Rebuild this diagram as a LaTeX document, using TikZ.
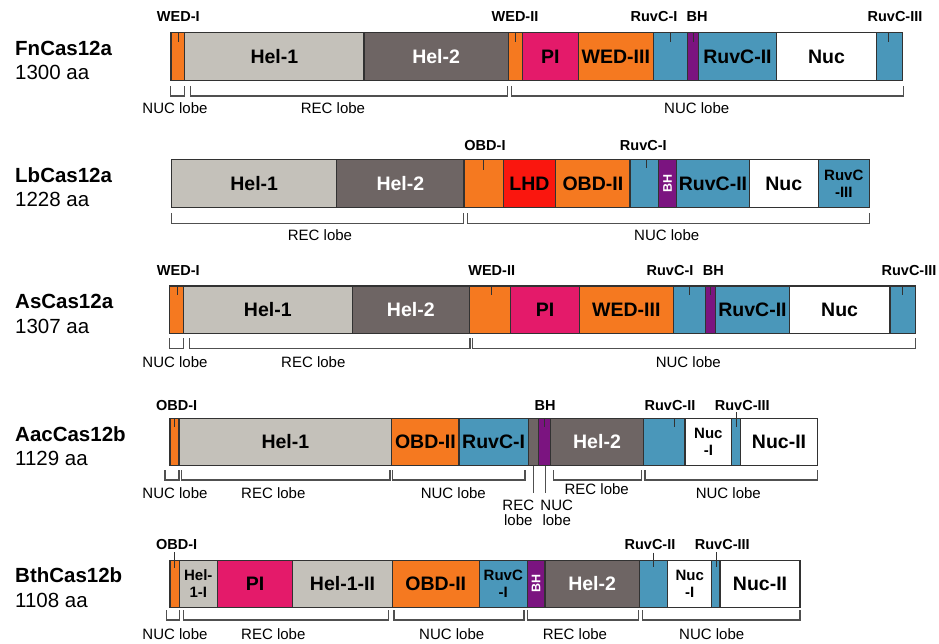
\documentclass[tikz,border=0pt]{standalone}
\usepackage{fontspec}
\setmainfont{Liberation Sans}
\definecolor{cOr}{RGB}{245,121,32}
\definecolor{cG1}{RGB}{196,193,186}
\definecolor{cG2}{RGB}{110,101,100}
\definecolor{cPk}{RGB}{228,26,106}
\definecolor{cBl}{RGB}{74,151,186}
\definecolor{cPu}{RGB}{123,20,128}
\definecolor{cRd}{RGB}{250,22,14}
\definecolor{lineC}{RGB}{50,50,50}
\definecolor{brkC}{RGB}{80,80,80}
\newcommand\rowy{0}
\newcommand\seg[4]{%
  \pgfmathsetmacro\segW{#3-#2}%
  \pgfmathsetmacro\segX{(#2+#3)/2}%
  \node[segbox,fill=#4,minimum width=\segW pt] (#1) at (\segX,\rowy) {};}
\newcommand\brk[5]{% name x1 x2 ytop ybot
  \draw[brk] (#2,#4) -- (#2,#5) -- (#3,#5) -- (#3,#4);}
\newcommand\tck[3]{\draw[tick] (#1,#2) -- (#1,#3);}
\begin{document}
\begin{tikzpicture}[x=1pt,y=-1pt,
  segbox/.style={draw=lineC, line width=1.1pt, inner sep=0pt, outer sep=0pt, minimum height=47.5pt},
  seglab/.style={font=\bfseries\fontsize{19.5}{21}\selectfont, inner sep=0pt, align=center},
  seglabs/.style={font=\bfseries\fontsize{15}{16.5}\selectfont, inner sep=0pt, align=center},
  bhlab/.style={font=\bfseries\fontsize{12.5}{13}\selectfont, inner sep=0pt, text=white, rotate=90},
  toplab/.style={font=\bfseries\fontsize{14.5}{15}\selectfont, inner sep=0pt, anchor=base},
  lobelab/.style={font=\fontsize{15}{15}\selectfont, inner sep=0pt, align=center},
  brk/.style={draw=brkC, line width=1.2pt},
  tick/.style={draw=lineC, line width=1pt},
  namelab/.style={font=\bfseries\fontsize{20.5}{22}\selectfont, anchor=base west, inner sep=0pt},
  aalab/.style={font=\fontsize{20.5}{22}\selectfont, anchor=base west, inner sep=0pt}]
\useasboundingbox (0,0) rectangle (939,644);

% ---------------- Row 1: FnCas12a ----------------
\node[namelab] (n1) at (15,55.7) {FnCas12a};
\node[aalab] (a1) at (15,80) {1300 aa};
\renewcommand\rowy{56.5}
\seg{fA}{171}{184.7}{cOr}
\seg{fB}{184.7}{364}{cG1}
\seg{fC}{364}{508.3}{cG2}
\seg{fD}{508.3}{522.3}{cOr}
\seg{fE}{522.3}{578.3}{cPk}
\seg{fF}{578.3}{653.3}{cOr}
\seg{fG}{653.3}{687.7}{cBl}
\seg{fH}{687.7}{698.7}{cPu}
\seg{fI}{698.7}{776.3}{cBl}
\seg{fJ}{776.3}{876.7}{white}
\seg{fK}{876.7}{902.7}{cBl}
\node[seglab] (fBt) at (fB) {Hel-1};
\node[seglab,text=white] (fCt) at (fC) {Hel-2};
\node[seglab] (fEt) at (fE) {PI};
\node[seglab] (fFt) at (fF) {WED-III};
\node[seglab] (fIt) at (fI) {RuvC-II};
\node[seglab] (fJt) at (fJ) {Nuc};
\node[toplab] (fl1) at (178.3,21.5) {WED-I};
\node[toplab] (fl2) at (515,21.5) {WED-II};
\node[toplab] (fl3) at (654,21.5) {RuvC-I};
\node[toplab] (fl4) at (697,21.5) {BH};
\node[toplab] (fl5) at (895,21.5) {RuvC-III};
\tck{178.3}{33}{42}
\tck{515}{33}{42}
\tck{670}{33}{42}
\tck{693.3}{33}{42}
\tck{888.3}{33}{42}
\brk{fb1}{170.7}{184.3}{86}{96}
\brk{fb2}{190.7}{507.7}{86}{96}
\brk{fb3}{511.7}{903.3}{86}{96}
\node[lobelab] (fo1) at (175,108) {NUC lobe};
\node[lobelab] (fo2) at (333,108) {REC lobe};
\node[lobelab] (fo3) at (696.7,108) {NUC lobe};

% ---------------- Row 2: LbCas12a ----------------
\node[namelab] (n2) at (15,182.7) {LbCas12a};
\node[aalab] (a2) at (15,207) {1228 aa};
\renewcommand\rowy{183.7}
\seg{lA}{171.7}{336.7}{cG1}
\seg{lB}{336.7}{464}{cG2}
\seg{lC}{464}{503.3}{cOr}
\seg{lD}{503.3}{555.7}{cRd}
\seg{lE}{555.7}{630}{cOr}
\seg{lF}{630}{658.3}{cBl}
\seg{lG}{658.3}{676.7}{cPu}
\seg{lH}{676.7}{749.3}{cBl}
\seg{lI}{749.3}{818.3}{white}
\seg{lJ}{818.3}{869.3}{cBl}
\node[seglab] (lAt) at (lA) {Hel-1};
\node[seglab,text=white] (lBt) at (lB) {Hel-2};
\node[seglab] (lDt) at (lD) {LHD};
\node[seglab] (lEt) at (lE) {OBD-II};
\node[bhlab] (lGt) at (lG) {BH};
\node[seglab] (lHt) at (lH) {RuvC-II};
\node[seglab] (lIt) at (lI) {Nuc};
\node[seglabs] (lJt) at (lJ) {RuvC\\-III};
\node[toplab] (ll1) at (485,151) {OBD-I};
\node[toplab] (ll2) at (643.3,151) {RuvC-I};
\tck{483.3}{160}{170}
\tck{646.7}{160}{168}
\brk{lb1}{171.7}{463.3}{213.3}{223.3}
\brk{lb2}{467.3}{869.3}{213.3}{223.3}
\node[lobelab] (lo1) at (320,235) {REC lobe};
\node[lobelab] (lo2) at (666.7,235) {NUC lobe};

% ---------------- Row 3: AsCas12a ----------------
\node[namelab] (n3) at (15,308.7) {AsCas12a};
\node[aalab] (a3) at (15,333) {1307 aa};
\renewcommand\rowy{309.7}
\seg{sA}{169.3}{183.3}{cOr}
\seg{sB}{183.3}{352.3}{cG1}
\seg{sC}{352.3}{469.3}{cG2}
\seg{sD}{469.3}{510.7}{cOr}
\seg{sE}{510.7}{579.3}{cPk}
\seg{sF}{579.3}{673.3}{cOr}
\seg{sG}{673.3}{705.7}{cBl}
\seg{sH}{705.7}{715.7}{cPu}
\seg{sI}{715.7}{789.3}{cBl}
\seg{sJ}{789.3}{890}{white}
\seg{sK}{890}{915.7}{cBl}
\node[seglab] (sBt) at (sB) {Hel-1};
\node[seglab,text=white] (sCt) at (sC) {Hel-2};
\node[seglab] (sEt) at (sE) {PI};
\node[seglab] (sFt) at (sF) {WED-III};
\node[seglab] (sIt) at (sI) {RuvC-II};
\node[seglab] (sJt) at (sJ) {Nuc};
\node[toplab] (sl1) at (178.3,275.7) {WED-I};
\node[toplab] (sl2) at (491.7,275.7) {WED-II};
\node[toplab] (sl3) at (670,275.7) {RuvC-I};
\node[toplab] (sl4) at (713.3,275.7) {BH};
\node[toplab] (sl5) at (909,275.7) {RuvC-III};
\tck{177.3}{286}{295}
\tck{491.7}{286}{295}
\tck{689}{286}{295}
\tck{710}{286}{295}
\tck{902.3}{286}{295}
\brk{sb1}{169.3}{183.3}{338.3}{348.3}
\brk{sb2}{189.3}{470}{338.3}{348.3}
\brk{sb3}{472.7}{915.7}{338.3}{348.3}
\node[lobelab] (so1) at (175,361.7) {NUC lobe};
\node[lobelab] (so2) at (313.3,361.7) {REC lobe};
\node[lobelab] (so3) at (688.3,361.7) {NUC lobe};

% ---------------- Row 4: AacCas12b ----------------
\node[namelab] (n4) at (15,441) {AacCas12b};
\node[aalab] (a4) at (15,465.3) {1129 aa};
\renewcommand\rowy{442}
\seg{cA}{170}{179}{cOr}
\seg{cB}{179}{391.7}{cG1}
\seg{cC}{391.7}{459}{cOr}
\seg{cD}{459}{528.3}{cBl}
\seg{cE}{528.3}{538.3}{cG2}
\seg{cF}{538.3}{550.7}{cPu}
\seg{cG}{550.7}{643.3}{cG2}
\seg{cH}{643.3}{685}{cBl}
\seg{cI}{685}{731.7}{white}
\seg{cJ}{731.7}{740.7}{cBl}
\seg{cK}{740.7}{817.3}{white}
\node[seglab] (cBt) at (cB) {Hel-1};
\node[seglab] (cCt) at (cC) {OBD-II};
\node[seglab] (cDt) at (cD) {RuvC-I};
\node[seglab,text=white] (cGt) at (cG) {Hel-2};
\node[seglabs] (cIt) at (cI) {Nuc\\-I};
\node[seglab] (cKt) at (cK) {Nuc-II};
\node[toplab] (cl1) at (176.7,410) {OBD-I};
\node[toplab] (cl2) at (545,410) {BH};
\node[toplab] (cl3) at (670,410) {RuvC-II};
\node[toplab] (cl4) at (742.3,410) {RuvC-III};
\tck{174.3}{418.3}{427}
\tck{544.3}{418.3}{427}
\tck{674}{418.3}{427}
\tck{736}{412}{427}
\brk{cb1}{165}{179}{470}{480}
\brk{cb2}{181.7}{390}{470}{480}
\brk{cb3}{392.7}{525}{470}{480}
\brk{cb4}{553.3}{641.7}{470}{480}
\brk{cb5}{645}{817.3}{470}{480}
\draw[brk,line width=1pt] (533.3,465.7) -- (533.3,493.3);
\draw[brk,line width=1pt] (545,465.7) -- (545,493.3);
\node[lobelab] (co1) at (175,493.3) {NUC lobe};
\node[lobelab] (co2) at (273.3,493.3) {REC lobe};
\node[lobelab] (co3) at (453.3,493.3) {NUC lobe};
\node[lobelab] (co4) at (596.7,489.3) {REC lobe};
\node[lobelab] (co5) at (728.3,493.3) {NUC lobe};
\node[lobelab] (co6) at (518.3,512.5) {REC\\lobe};
\node[lobelab] (co7) at (556.7,512.5) {NUC\\lobe};

% ---------------- Row 5: BthCas12b ----------------
\node[namelab] (n5) at (15,582.7) {BthCas12b};
\node[aalab] (a5) at (15,607) {1108 aa};
\renewcommand\rowy{583.8}
\seg{bA}{170}{179.3}{cOr}
\seg{bB}{179.3}{217.3}{cG1}
\seg{bC}{217.3}{292.7}{cPk}
\seg{bD}{292.7}{392.3}{cG1}
\seg{bE}{392.3}{479.3}{cOr}
\seg{bF}{479.3}{527.3}{cBl}
\seg{bG}{527.3}{545}{cPu}
\seg{bH}{545}{639.3}{cG2}
\seg{bI}{639.3}{667.7}{cBl}
\seg{bJ}{667.7}{711.7}{white}
\seg{bK}{711.7}{720}{cBl}
\seg{bL}{720}{800}{white}
\node[seglabs] (bBt) at (bB) {Hel-\\1-I};
\node[seglab] (bCt) at (bC) {PI};
\node[seglab] (bDt) at (bD) {Hel-1-II};
\node[seglab] (bEt) at (bE) {OBD-II};
\node[seglabs] (bFt) at (bF) {RuvC\\-I};
\node[bhlab] (bGt) at (bG) {BH};
\node[seglab,text=white] (bHt) at (bH) {Hel-2};
\node[seglabs] (bJt) at (bJ) {Nuc\\-I};
\node[seglab] (bLt) at (bL) {Nuc-II};
\node[toplab] (bl1) at (176.7,549.3) {OBD-I};
\node[toplab] (bl2) at (650,549.3) {RuvC-II};
\node[toplab] (bl3) at (722.3,549.3) {RuvC-III};
\tck{174.3}{552}{568.3}
\tck{653.3}{552.7}{567.3}
\tck{716}{552}{567}
\brk{bb1}{166.7}{179.3}{610}{620}
\brk{bb2}{183.3}{388.3}{610}{620}
\brk{bb3}{394}{524}{610}{620}
\brk{bb4}{527.7}{638.3}{610}{620}
\brk{bb5}{642.7}{800}{610}{620}
\node[lobelab] (bo1) at (175,634) {NUC lobe};
\node[lobelab] (bo2) at (273.3,634) {REC lobe};
\node[lobelab] (bo3) at (451.7,634) {NUC lobe};
\node[lobelab] (bo4) at (575,634) {REC lobe};
\node[lobelab] (bo5) at (711.7,634) {NUC lobe};
\end{tikzpicture}
\end{document}
